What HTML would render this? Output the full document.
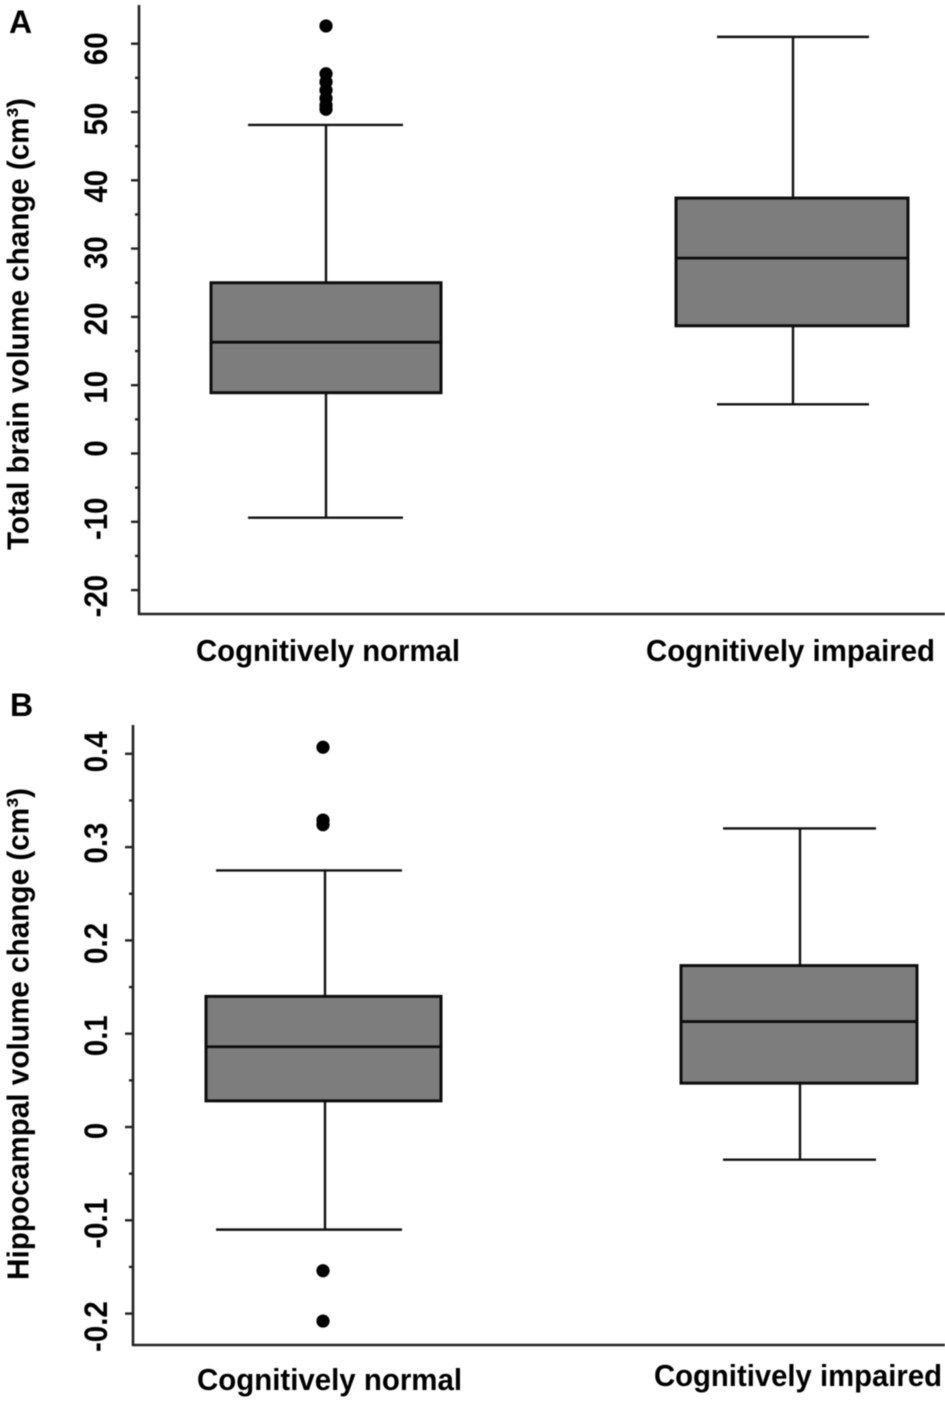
<!DOCTYPE html>
<html lang="en">
<head>
<meta charset="utf-8">
<title>Brain volume change box plots</title>
<style>
html,body{margin:0;padding:0;background:#fff;width:945px;height:1401px;overflow:hidden}
svg{display:block;filter:blur(0.5px)}
text{font-family:"Liberation Sans",sans-serif;fill:#000}
</style>
</head>
<body>
<svg id="chart" xmlns="http://www.w3.org/2000/svg" width="945" height="1401" viewBox="0 0 945 1401">
  <rect width="945" height="1401" fill="#fff"/>
</svg>
<script>
const categories = ["Cognitively normal", "Cognitively impaired"];

const brainTicks = [60, 50, 40, 30, 20, 10, 0, -10, -20];
const brainTickLabels = ["60", "50", "40", "30", "20", "10", "0", "-10", "-20"];
const brainMinorTicks = [55, 45, 35, 25, 15, 5, -5, -15];
const brainWhiskerHigh = [48.1, 61.0];
const brainQ3 = [25.0, 37.4];
const brainMedian = [16.3, 28.6];
const brainQ1 = [8.9, 18.7];
const brainWhiskerLow = [-9.4, 7.2];
const brainOutliers = [62.6, 55.6, 54.4, 53.2, 52.0, 51.0, 50.4];

const hippoTicks = [0.4, 0.3, 0.2, 0.1, 0, -0.1, -0.2];
const hippoTickLabels = ["0.4", "0.3", "0.2", "0.1", "0", "-0.1", "-0.2"];
const hippoMinorTicks = [0.35, 0.25, 0.15, 0.05, -0.05, -0.15];
const hippoWhiskerHigh = [0.275, 0.320];
const hippoQ3 = [0.140, 0.173];
const hippoMedian = [0.086, 0.113];
const hippoQ1 = [0.028, 0.047];
const hippoWhiskerLow = [-0.110, -0.035];
const hippoOutliers = [0.407, 0.329, 0.324, -0.154, -0.208];

const svg = document.getElementById('chart');
const NS = 'http://www.w3.org/2000/svg';

function make(tag, attrs, parent) {
  const el = document.createElementNS(NS, tag);
  for (const k in attrs) el.setAttribute(k, attrs[k]);
  parent.appendChild(el);
  return el;
}

function drawLine(parent, name, x1, y1, x2, y2, width, color) {
  const el = make('line', {x1, y1, x2, y2, stroke: color, 'stroke-width': width}, parent);
  
  
  return el;
}

function drawText(parent, name, str, x, y, size, length, rotate, squeeze) {
  const el = make('text', {
    x: rotate ? 0 : x, y: rotate ? 0 : y,
    'font-size': size, 'font-weight': 'bold'
  }, parent);
  if (length) {
    el.setAttribute('textLength', length);
    el.setAttribute('lengthAdjust', 'spacingAndGlyphs');
  }
  if (rotate) {
    el.setAttribute('transform', 'translate(' + x + ' ' + y + ') rotate(-90) scale(' + (squeeze || 1) + ' 1)');
  }
  el.textContent = str;
  
  
  return el;
}

function drawPanel(p) {
  const g = make('g', {}, svg);
  
  
  const y = v => p.zeroY - v * p.scale;

  drawLine(g, p.name + '-y-axis', p.axisX, p.axisTop, p.axisX, p.axisBottom + 1, 2.6, '#222');
  drawLine(g, p.name + '-x-axis', p.axisX - 1, p.axisBottom, 945, p.axisBottom, 2.6, '#222');

  p.ticks.forEach((t, i) => {
    drawLine(g, p.name + '-y-tick', p.axisX - 8, y(t), p.axisX, y(t), 2.4, '#222');
    const label = drawText(g, p.name + '-y-tick-label', p.labels[i], 107, y(t) + p.nudge[i], p.tickSize, 0, true, 0.92);
    label.setAttribute('text-anchor', 'middle');
  });
  p.minor.forEach(t => {
    drawLine(g, p.name + '-y-minor-tick', p.axisX - 4, y(t), p.axisX, y(t), 2.4, '#222');
  });

  p.boxes.forEach((b, i) => {
    const c = b.center;
    const prefix = p.name + '-' + (i === 0 ? 'normal' : 'impaired');
    drawLine(g, prefix + '-upper-whisker', c, y(p.high[i]), c, y(p.q3[i]), 2.4, '#111');
    drawLine(g, prefix + '-lower-whisker', c, y(p.q1[i]), c, y(p.low[i]), 2.4, '#111');
    drawLine(g, prefix + '-upper-cap', b.capL, y(p.high[i]), b.capR, y(p.high[i]), 2.4, '#111');
    drawLine(g, prefix + '-lower-cap', b.capL, y(p.low[i]), b.capR, y(p.low[i]), 2.4, '#111');
    const box = make('rect', {
      x: b.left, y: y(p.q3[i]), width: b.right - b.left,
      height: y(p.q1[i]) - y(p.q3[i]),
      fill: '#7d7d7d', stroke: '#0d0d0d', 'stroke-width': 3
    }, g);
    
    
    drawLine(g, prefix + '-median', b.left, y(p.med[i]), b.right, y(p.med[i]), 2.8, '#0d0d0d');
    drawText(g, prefix + '-category-label', categories[i], b.labelX, b.labelY, 31, b.labelW, false);
  });

  p.outliers.forEach(v => {
    const pt = make('circle', {cx: p.outlierX, cy: y(v), r: 6.6, fill: '#000'}, g);
    
    
  });

  drawText(g, p.name + '-y-axis-title', p.title, 28.5, p.titleY, 30.5, p.titleW, true);
  drawText(g, p.name + '-letter', p.letter, p.letterX, p.letterY, 32, 0, false);
}

drawPanel({
  name: 'panel-a', letter: 'A', letterX: 9, letterY: 33,
  title: 'Total brain volume change (cm³)', titleY: 550, titleW: 452,
  axisX: 139, axisTop: 5, axisBottom: 614, zeroY: 453.5, scale: 6.83, tickSize: 32,
  ticks: brainTicks, labels: brainTickLabels, minor: brainMinorTicks,
  nudge: [5, 7, 6, 4, 2, 2, -5, -3, 6],
  high: brainWhiskerHigh, q3: brainQ3, med: brainMedian, q1: brainQ1, low: brainWhiskerLow,
  outliers: brainOutliers, outlierX: 326,
  boxes: [
    {center: 326, left: 211, right: 441, capL: 248, capR: 403, labelX: 196, labelY: 661, labelW: 264},
    {center: 793, left: 676, right: 908, capL: 717, capR: 869, labelX: 646, labelY: 661, labelW: 289}
  ]
});

drawPanel({
  name: 'panel-b', letter: 'B', letterX: 10, letterY: 716,
  title: 'Hippocampal volume change (cm³)', titleY: 1280, titleW: 492,
  axisX: 133, axisTop: 725, axisBottom: 1345, zeroY: 1127, scale: 933, tickSize: 32,
  ticks: hippoTicks, labels: hippoTickLabels, minor: hippoMinorTicks,
  nudge: [-2, -4, 3, 2, 4, 3, 13],
  high: hippoWhiskerHigh, q3: hippoQ3, med: hippoMedian, q1: hippoQ1, low: hippoWhiskerLow,
  outliers: hippoOutliers, outlierX: 323,
  boxes: [
    {center: 325, left: 206, right: 441, capL: 216, capR: 402, labelX: 197, labelY: 1390, labelW: 265},
    {center: 800, left: 681, right: 917, capL: 723, capR: 876, labelX: 654, labelY: 1386, labelW: 288}
  ]
});
</script>
</body>
</html>
